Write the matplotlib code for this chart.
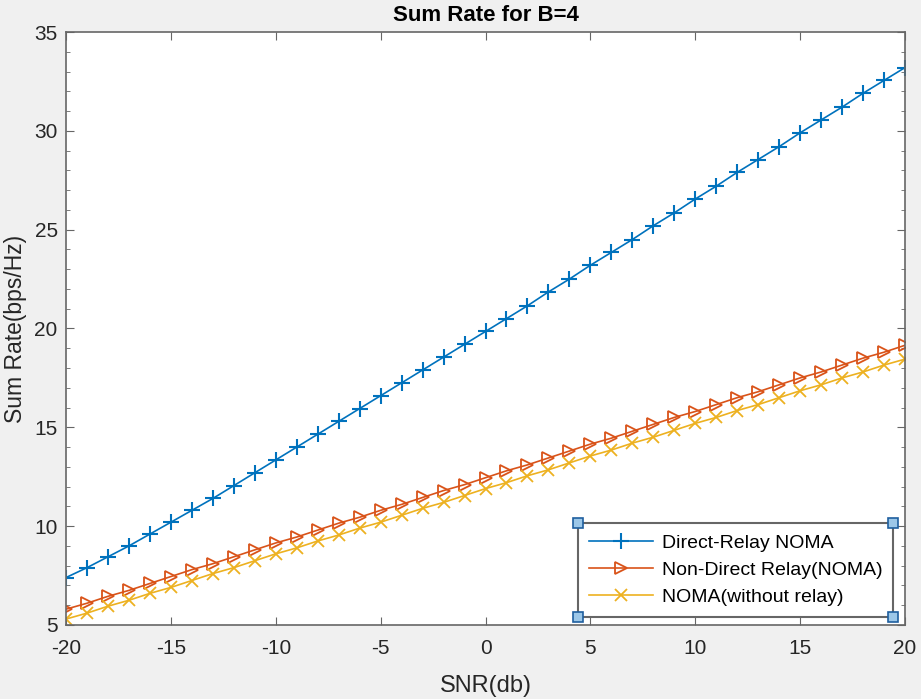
import numpy as np
import matplotlib
matplotlib.use("Agg")
import matplotlib.pyplot as plt
from matplotlib.ticker import MultipleLocator
from matplotlib.lines import Line2D

plt.rcParams['font.family'] = ['Liberation Sans', 'DejaVu Sans']
plt.rcParams['axes.unicode_minus'] = False

# SNR axis (dB)
snr = np.arange(-20, 21)

direct_relay = [7.4, 7.9, 8.45, 9.0, 9.6, 10.2, 10.8, 11.4, 12.05, 12.7,
                13.35, 14.0, 14.65, 15.3, 15.95, 16.6, 17.25, 17.9, 18.55, 19.2,
                19.85, 20.5, 21.15, 21.85, 22.5, 23.2, 23.85, 24.5, 25.2, 25.85,
                26.55, 27.2, 27.9, 28.55, 29.2, 29.9, 30.55, 31.2, 31.9, 32.55,
                33.2]
non_direct = [5.8, 6.1, 6.45, 6.75, 7.1, 7.45, 7.8, 8.1, 8.45, 8.8,
              9.15, 9.45, 9.8, 10.15, 10.45, 10.8, 11.1, 11.45, 11.8, 12.1,
              12.45, 12.8, 13.1, 13.45, 13.8, 14.15, 14.45, 14.8, 15.15, 15.5,
              15.8, 16.15, 16.5, 16.8, 17.15, 17.5, 17.8, 18.15, 18.5, 18.8,
              19.15]
no_relay = [5.3, 5.6, 5.95, 6.25, 6.6, 6.9, 7.25, 7.6, 7.9, 8.25,
            8.6, 8.9, 9.25, 9.55, 9.9, 10.2, 10.55, 10.9, 11.2, 11.55,
            11.9, 12.2, 12.55, 12.85, 13.2, 13.55, 13.85, 14.2, 14.5, 14.85,
            15.2, 15.5, 15.85, 16.15, 16.5, 16.85, 17.15, 17.5, 17.8, 18.15,
            18.45]

fig = plt.figure(figsize=(9.21, 6.99), dpi=100, facecolor='#f0f0f0')
ax = fig.add_axes([0.0717, 0.1059, 0.9109, 0.8483])

ax.plot(snr, direct_relay, color='#0072BD', marker='+', markersize=11,
        markeredgewidth=1.5, linewidth=1.2, label='Direct-Relay NOMA')
ax.plot(snr, non_direct, color='#D95319', marker='>', markersize=8,
        markerfacecolor='none', markeredgewidth=1.3, linewidth=1.2,
        label='Non-Direct Relay(NOMA)')
ax.plot(snr, no_relay, color='#EDB120', marker='x', markersize=8,
        markeredgewidth=1.3, linewidth=1.2, label='NOMA(without relay)')

ax.set_xlim(-20, 20)
ax.set_ylim(5, 35)
ax.xaxis.set_major_locator(MultipleLocator(5))
ax.yaxis.set_major_locator(MultipleLocator(5))
ax.yaxis.set_minor_locator(MultipleLocator(1))
ax.tick_params(which='both', direction='in', top=True, right=True,
               colors='#666666', labelcolor='#262626', labelsize=15)
ax.tick_params(which='major', length=6)
ax.tick_params(which='minor', length=3)
ax.tick_params(axis='x', pad=10)
ax.tick_params(axis='y', pad=6)
for s in ax.spines.values():
    s.set_color('#666666')
    s.set_linewidth(1.2)

ax.set_xlabel('SNR(db)', fontsize=17, color='#262626', labelpad=12)
ax.set_ylabel('Sum Rate(bps/Hz)', fontsize=16.5, color='#262626', labelpad=5)
ax.set_title('Sum Rate for B=4', fontsize=16, fontweight='bold', pad=8)

leg = ax.legend(loc='lower right', bbox_to_anchor=(0.986, 0.0135),
                borderaxespad=0, fontsize=14, handlelength=3.3,
                handletextpad=0.45, fancybox=False, framealpha=1,
                edgecolor='#666666', borderpad=0.55, labelspacing=0.5)
leg.get_frame().set_linewidth(1.5)

# edit-mode handles at legend corners
fig.canvas.draw()
bb = leg.get_window_extent().transformed(fig.transFigure.inverted())
for cx in (bb.x0, bb.x1):
    for cy in (bb.y0, bb.y1):
        fig.add_artist(Line2D([cx], [cy], marker='s', markersize=7,
                              markerfacecolor='#9cc7e8', markeredgecolor='#1f5f9f',
                              markeredgewidth=1.2, transform=fig.transFigure))

fig.savefig('out.png', dpi=100, facecolor=fig.get_facecolor())
